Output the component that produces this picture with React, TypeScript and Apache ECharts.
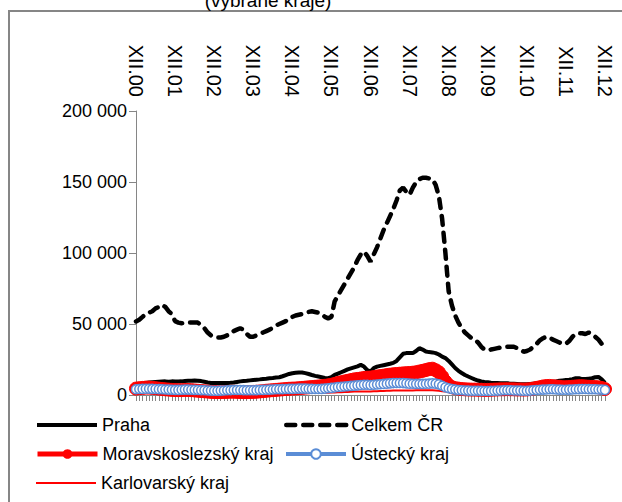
import React, { useEffect, useRef } from "react";
import * as echarts from "echarts";

// Year labels (December of each year) shown on the top axis
const yearLabels = ["00", "01", "02", "03", "04", "05", "06", "07", "08", "09", "10", "11", "12"];
const romanMonths = ["I", "II", "III", "IV", "V", "VI", "VII", "VIII", "IX", "X", "XI", "XII"];

// Monthly values in thousands, XII.2000 .. XII.2012 (145 months)
const celkemCR = [
  51.8,
  53, 55, 57, 58, 59, 61, 62, 63.5, 62, 59, 57, 52,
  51, 50.5, 51, 51, 51, 51, 51, 49, 47, 44, 42, 41,
  40.5, 40.5, 41, 42, 43, 45, 46, 47, 46, 43, 41, 41,
  42, 43, 44, 45, 46, 47.5, 49, 50, 51, 52, 54, 55,
  56, 56.5, 57, 58, 58.5, 59, 58.5, 58, 57, 55, 54, 55,
  66, 70, 74, 78, 82, 86, 90, 95, 99, 101, 98, 94,
  99, 104, 110, 116, 121, 126, 131, 137, 144, 146, 143, 141,
  146, 150, 152, 153, 153, 152.5, 152, 148, 140, 124, 100, 73,
  63, 56, 51, 47, 44, 42, 40, 39, 37, 34, 32, 31.5,
  32, 32.5, 33, 33.5, 34, 34, 34, 34, 33, 32, 30.5, 31,
  32, 34, 36, 38.5, 40, 41, 40.5, 39, 38, 37, 36, 36,
  38, 41, 43, 43.5, 43.5, 43, 44, 43, 41, 39, 36, 33.5,
];

const praha = [
  7.5,
  7.8, 8, 8.5, 8.8, 9, 9.2, 9.4, 9.5, 9.6, 9.4, 9.6, 9.5,
  9.5, 9.6, 9.8, 10, 10.1, 10.2, 10.1, 9.8, 9.3, 8.8, 8.5, 8.5,
  8.4, 8.4, 8.5, 8.5, 8.6, 8.8, 9.2, 9.6, 9.8, 10, 10.3, 10.6,
  10.8, 11, 11.3, 11.5, 11.8, 12, 12.3, 12.5, 13.2, 14, 14.8, 15.3,
  15.6, 15.8, 15.8, 15.4, 14.8, 14.1, 13.5, 13, 12.5, 12, 11.8, 12.5,
  14.1, 15, 16, 17, 18, 18.8, 19.5, 20.2, 21.2, 20, 17.5, 16.5,
  19, 20, 20.5, 21, 21.5, 22, 22.6, 24, 26.5, 29, 29.5, 29.5,
  29.5, 31, 33, 32, 30.6, 30.2, 30, 29.5, 28.5, 27, 26, 24,
  21.5, 19, 17, 15.5, 14.1, 13, 12, 11, 10.2, 9.5, 9.2, 9,
  8.7, 8.5, 8.4, 8.3, 8.3, 8.2, 8, 8, 7.8, 7.6, 7.5, 7.5,
  7.8, 8, 8.2, 8.5, 8.8, 9, 9, 9.2, 9.5, 10, 10.3, 10.6,
  10.8, 11.2, 11.8, 11.8, 11.2, 11.2, 11.5, 11.8, 12.5, 12.7, 11, 8.5,
];

const moravskoslezsky = [
  4.5,
  4.8, 5, 5.2, 5.2, 5, 4.8, 4.5, 4.3, 4, 3.8, 3.6, 3.5,
  3.4, 3.4, 3.5, 3.5, 3.4, 3.2, 3, 2.8, 2.6, 2.4, 2.2, 2.1,
  2, 2, 2.1, 2.2, 2.3, 2.3, 2.2, 2.1, 2, 2, 2.1, 2.2,
  2.3, 2.5, 2.7, 3, 3.2, 3.4, 3.6, 3.8, 4, 4.2, 4.4, 4.5,
  4.6, 4.8, 5, 5.2, 5.4, 5.6, 5.8, 6, 6.2, 6.5, 6.8, 7.2,
  7.8, 8.5, 9, 9.5, 10, 10.5, 11, 11.3, 11.6, 12, 12.2, 12.3,
  12.6, 13, 13.3, 13.6, 14, 14.3, 14.6, 14.8, 15, 15.2, 15.4, 15.5,
  15.7, 16, 16.5, 17, 17.6, 18.2, 18.5, 17.5, 16, 13, 9.5, 7,
  5.5, 4.8, 4.5, 4.2, 4, 3.9, 3.8, 3.8, 3.7, 3.7, 3.6, 3.6,
  3.7, 3.8, 3.9, 4, 4, 4.1, 4, 4, 3.9, 3.9, 3.8, 3.9,
  4.1, 4.5, 5, 5.5, 6, 6.3, 6.4, 6.2, 6, 5.8, 5.5, 5.5,
  5.6, 5.8, 6, 6.2, 6.2, 6, 5.8, 5.7, 5.6, 5.4, 5, 4.2,
];

const ustecky = [
  4,
  4.2, 4.3, 4.4, 4.4, 4.3, 4.2, 4.1, 4, 3.9, 3.8, 3.7, 3.6,
  3.6, 3.7, 3.8, 3.8, 3.7, 3.6, 3.5, 3.4, 3.3, 3.2, 3.1, 3,
  3, 3.1, 3.2, 3.3, 3.4, 3.5, 3.5, 3.5, 3.4, 3.3, 3.3, 3.3,
  3.4, 3.5, 3.6, 3.7, 3.8, 3.9, 4, 4, 4.1, 4.2, 4.3, 4.3,
  4.4, 4.5, 4.5, 4.5, 4.4, 4.3, 4.2, 4.2, 4.3, 4.5, 4.8, 5,
  5.3, 5.6, 5.8, 6, 6.2, 6.4, 6.6, 6.8, 7, 7.2, 7.2, 7,
  7.2, 7.4, 7.6, 7.8, 8, 8.2, 8.4, 8.5, 8.5, 8.4, 8.2, 8,
  7.9, 7.8, 7.8, 7.8, 7.9, 8, 8.2, 8, 7.5, 6.5, 5.5, 4.8,
  4.2, 3.8, 3.5, 3.3, 3.2, 3.1, 3, 3, 3, 2.9, 2.8, 2.8,
  2.9, 3, 3.1, 3.2, 3.3, 3.3, 3.3, 3.2, 3.2, 3.1, 3, 3,
  3.1, 3.3, 3.5, 3.7, 3.8, 3.9, 4, 4, 3.9, 3.8, 3.7, 3.7,
  3.8, 3.9, 4, 4.1, 4.2, 4.2, 4.1, 4, 4, 3.9, 3.8, 3.6,
];

const karlovarsky = [
  1.2,
  1.2, 1.3, 1.4, 1.4, 1.4, 1.3, 1.3, 1.2, 1.2, 1.1, 1.1, 1.1,
  1.1, 1.2, 1.2, 1.3, 1.3, 1.2, 1.2, 1.1, 1.1, 1, 1, 1,
  1, 1, 1.1, 1.1, 1.2, 1.2, 1.2, 1.1, 1.1, 1, 1, 1,
  1, 1.1, 1.1, 1.2, 1.2, 1.3, 1.3, 1.3, 1.3, 1.3, 1.3, 1.3,
  1.4, 1.4, 1.5, 1.5, 1.5, 1.5, 1.5, 1.5, 1.5, 1.6, 1.6, 1.7,
  1.8, 1.9, 2, 2.1, 2.2, 2.3, 2.4, 2.4, 2.5, 2.5, 2.5, 2.5,
  2.6, 2.7, 2.8, 2.9, 3, 3, 3.1, 3.1, 3.2, 3.2, 3.2, 3.2,
  3.2, 3.3, 3.3, 3.4, 3.4, 3.4, 3.3, 3.2, 3, 2.7, 2.4, 2.1,
  1.9, 1.8, 1.7, 1.6, 1.6, 1.5, 1.5, 1.5, 1.5, 1.5, 1.5, 1.5,
  1.5, 1.6, 1.6, 1.7, 1.7, 1.7, 1.7, 1.7, 1.7, 1.6, 1.6, 1.6,
  1.7, 1.8, 1.9, 2, 2.1, 2.2, 2.2, 2.2, 2.2, 2.1, 2.1, 2.1,
  2.1, 2.2, 2.3, 2.4, 2.4, 2.4, 2.4, 2.3, 2.3, 2.2, 2.2, 2.1,
];

const yTicks = { min: 0, max: 200000, interval: 50000 };
const FONT = "'Liberation Sans', Arial, sans-serif";

function buildCategories(): string[] {
  const cats: string[] = ["XII." + yearLabels[0]];
  for (let y = 1; y < yearLabels.length; y++) {
    for (let m = 0; m < 12; m++) cats.push(romanMonths[m] + "." + yearLabels[y]);
  }
  return cats;
}

const fmt = (v: number) => String(v).replace(/\B(?=(\d{3})+(?!\d))/g, " ");
const k = (arr: number[]) => arr.map((v) => Math.round(v * 1000));

export default function App() {
  const ref = useRef<HTMLDivElement>(null);
  useEffect(() => {
    document.body.style.margin = "0";
    const chart = echarts.init(ref.current!, undefined, { renderer: "svg" });
    const categories = buildCategories();
    const legendText = { fontSize: 18, color: "#000", fontFamily: FONT };
    const mkLegend = (name: string, left: number, top: number, noSymbol: boolean, lw: number) => ({
      data: [name],
      left,
      top,
      padding: 0,
      itemWidth: 60,
      itemHeight: 12,
      itemGap: 0,
      textStyle: legendText,
      selectedMode: false,
      lineStyle: { width: lw },
      ...(noSymbol ? { itemStyle: { opacity: 0 } } : {}),
    });
    chart.setOption({
      animation: false,
      backgroundColor: "#fff",
      textStyle: { fontFamily: FONT },
      graphic: [
        {
          type: "rect",
          shape: { x: 9, y: 11, width: 700, height: 600 },
          style: { fill: "none", stroke: "#868686", lineWidth: 2 },
          silent: true,
          z: -1,
        },
        {
          type: "text",
          x: 268,
          y: -9,
          style: {
            text: "(vybrané kraje)",
            fontSize: 19,
            fontFamily: FONT,
            fill: "#000",
            textAlign: "center",
          },
        },
      ],
      grid: { left: 136, top: 111, right: 17, bottom: 107, containLabel: false },
      legend: [
        mkLegend("Praha", 35, 416, true, 4),
        mkLegend("Celkem ČR", 284, 416, true, 4.5),
        mkLegend("Moravskoslezský kraj", 35, 445, false, 5),
        mkLegend("Ústecký kraj", 284, 445, false, 4),
        mkLegend("Karlovarský kraj", 35, 474, true, 2),
      ],
      xAxis: [
        {
          type: "category",
          data: categories,
          boundaryGap: false,
          position: "bottom",
          axisLine: { show: true, lineStyle: { color: "#868686", width: 1 } },
          axisTick: { show: true, interval: 0, length: 6, lineStyle: { color: "#868686" } },
          axisLabel: { show: false },
          splitLine: { show: false },
        },
        {
          type: "category",
          data: categories,
          boundaryGap: false,
          position: "top",
          axisLine: { show: false },
          axisTick: { show: false },
          axisLabel: {
            show: true,
            interval: 11,
            rotate: 90,
            fontSize: 20,
            color: "#000",
            fontFamily: FONT,
            margin: 14,
          },
          splitLine: { show: false },
        },
      ],
      yAxis: {
        type: "value",
        min: yTicks.min,
        max: yTicks.max,
        interval: yTicks.interval,
        axisLine: { show: true, lineStyle: { color: "#868686", width: 1 } },
        axisTick: { show: true, length: 7, lineStyle: { color: "#868686" } },
        axisLabel: { fontSize: 18, color: "#000", fontFamily: FONT, formatter: fmt, margin: 9 },
        splitLine: { show: false },
      },
      series: [
        {
          name: "Praha",
          type: "line",
          data: k(praha),
          showSymbol: false,
          symbol: "none",
          lineStyle: { color: "#000", width: 4 },
          itemStyle: { color: "#000" },
        },
        {
          name: "Celkem ČR",
          type: "line",
          data: k(celkemCR),
          showSymbol: false,
          symbol: "none",
          lineStyle: { color: "#000", width: 4.5, type: [9, 8], cap: "round" },
          itemStyle: { color: "#000" },
        },
        {
          name: "Moravskoslezský kraj",
          type: "line",
          data: k(moravskoslezsky),
          symbol: "circle",
          symbolSize: 13,
          showAllSymbol: true,
          lineStyle: { color: "#FF0000", width: 5 },
          itemStyle: { color: "#FF0000", borderColor: "#FF0000" },
        },
        {
          name: "Ústecký kraj",
          type: "line",
          data: k(ustecky),
          symbol: "circle",
          symbolSize: 9,
          showAllSymbol: true,
          lineStyle: { color: "#5B8DD6", width: 4 },
          itemStyle: { color: "#fff", borderColor: "#5B8DD6", borderWidth: 1.5 },
        },
        {
          name: "Karlovarský kraj",
          type: "line",
          data: k(karlovarsky),
          showSymbol: false,
          symbol: "none",
          lineStyle: { color: "#FF0000", width: 2 },
          itemStyle: { color: "#FF0000" },
        },
      ],
    });
    return () => chart.dispose();
  }, []);
  return <div ref={ref} style={{ width: 622, height: 502 }} />;
}
